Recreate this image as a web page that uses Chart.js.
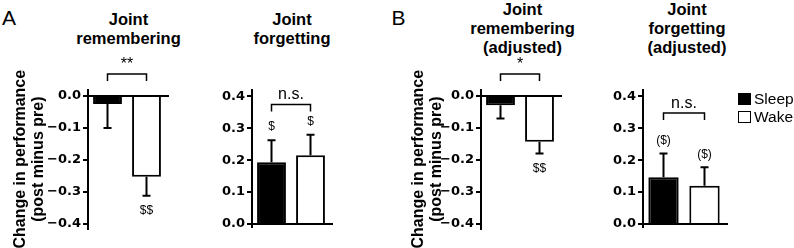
<!DOCTYPE html>
<html><head><meta charset="utf-8">
<script src="https://cdn.jsdelivr.net/npm/chart.js@4"></script>
<style>
body{margin:0;width:794px;height:248px;position:relative;background:#fff;overflow:hidden;font-family:"Liberation Sans",Arial,sans-serif;color:#000}
canvas{position:absolute;top:0}
.t{position:absolute;width:200px;font-weight:bold;font-size:16.5px;line-height:19px;text-align:center;white-space:nowrap}
.l{position:absolute;font-size:21px;line-height:21px}
.lg{position:absolute;font-size:15.5px;line-height:18px;white-space:nowrap}
.bx{position:absolute;width:13px;height:12px;box-sizing:border-box}
</style></head>
<body>
<div class="l" style="left:2px;top:7px">A</div>
<div class="l" style="left:391.5px;top:6.5px">B</div>
<div id="titles"></div>
<canvas id="c0" width="180" height="248" style="left:0px"></canvas>
<canvas id="c1" width="150" height="248" style="left:190px"></canvas>
<canvas id="c2" width="170" height="248" style="left:398px"></canvas>
<canvas id="c3" width="150" height="248" style="left:590px"></canvas>
<div id="legend"></div>
<script>
// ---- data ----
const categories = ["Sleep", "Wake"];
const panelTitles = [
  ["Joint", "remembering"],
  ["Joint", "forgetting"],
  ["Joint", "remembering", "(adjusted)"],
  ["Joint", "forgetting", "(adjusted)"]
];
const yAxisTitle = ["Change in performance", "(post minus pre)"];
const rememberMeans = [-0.025, -0.252];
const rememberErr = [0.075, 0.060];
const forgetMeans = [0.194, 0.216];
const forgetErr = [0.069, 0.064];
const rememberAdjMeans = [-0.029, -0.143];
const rememberAdjErr = [0.041, 0.037];
const forgetAdjMeans = [0.147, 0.120];
const forgetAdjErr = [0.074, 0.058];
const negTicks = [0, -0.1, -0.2, -0.3, -0.4];
const posTicks = [0, 0.1, 0.2, 0.3, 0.4];
const sigLabels = ["**", "n.s.", "*", "n.s."];
const bracketLevels = [0.069, 0.375, 0.069, 0.348];
const barMarks = [["", "$$"], ["$", "$"], ["", "$$"], ["($)", "($)"]];

// ---- plugin: zero line, error bars, marks, significance brackets ----
const annot = {
  id: 'annot',
  afterDatasetsDraw(chart, args, o) {
    const {ctx, chartArea: ca, scales: {y}} = chart;
    const meta = chart.getDatasetMeta(0);
    const vals = chart.data.datasets[0].data;
    ctx.save();
    ctx.strokeStyle = '#000'; ctx.fillStyle = '#000'; ctx.lineWidth = 2;
    const y0 = y.getPixelForValue(0);
    ctx.beginPath(); ctx.moveTo(ca.left - 1, y0); ctx.lineTo(ca.right + 3, y0); ctx.stroke();
    vals.forEach((v, i) => {
      const bx = meta.data[i].x;
      const sign = v < 0 ? -1 : 1;
      const p1 = y.getPixelForValue(v), p2 = y.getPixelForValue(v + sign * o.err[i]);
      ctx.beginPath();
      ctx.moveTo(bx, p1); ctx.lineTo(bx, p2);
      ctx.moveTo(bx - 4, p2); ctx.lineTo(bx + 4, p2);
      ctx.stroke();
      if (o.marks[i]) {
        ctx.font = '12px "Liberation Sans"';
        ctx.textAlign = 'center'; ctx.textBaseline = 'middle';
        ctx.fillText(o.marks[i], bx, p2 + (sign < 0 ? 15 : -13));
      }
    });
    const by = y.getPixelForValue(o.level);
    const x1 = meta.data[0].x, x2 = meta.data[1].x;
    ctx.lineWidth = 1.5;
    ctx.beginPath();
    ctx.moveTo(x1, by + 7); ctx.lineTo(x1, by); ctx.lineTo(x2, by); ctx.lineTo(x2, by + 7);
    ctx.stroke();
    ctx.font = '16px "Liberation Sans"';
    ctx.textAlign = 'center'; ctx.textBaseline = 'alphabetic';
    ctx.fillText(o.sig, (x1 + x2) / 2, by - 5);
    ctx.restore();
  }
};

const fmt = v => (v < 0 ? '\u2212' : '') + Math.abs(v).toFixed(1);

function makePanel(id, means, errs, ticks, min, max, yw, pad, showTitle, idx) {
  new Chart(document.getElementById(id), {
    type: 'bar',
    data: {
      labels: categories,
      datasets: [{
        data: means,
        backgroundColor: ['#000', '#fff'],
        borderColor: '#000',
        borderWidth: 2,
        barPercentage: 0.74,
        categoryPercentage: 1
      }]
    },
    options: {
      responsive: false, animation: false, events: [],
      layout: {padding: pad},
      plugins: {
        legend: {display: false}, tooltip: {enabled: false},
        annot: {err: errs, marks: barMarks[idx], sig: sigLabels[idx], level: bracketLevels[idx]}
      },
      scales: {
        x: {display: false},
        y: {
          min: min, max: max,
          afterBuildTicks: s => { s.ticks = ticks.map(v => ({value: v})); },
          afterFit: s => { s.width = yw; },
          border: {display: true, color: '#000', width: 2},
          grid: {display: true, drawOnChartArea: false, drawTicks: true, tickLength: 5, color: '#000', lineWidth: 2},
          ticks: {color: '#000', padding: 2, font: {family: 'DejaVu Sans', weight: 'bold', size: 13}, callback: fmt},
          title: {display: showTitle, text: yAxisTitle, color: '#000',
                  font: {family: 'Liberation Sans', weight: 'bold', size: 16, lineHeight: 1.1},
                  padding: {top: 12, bottom: 0}}
        }
      }
    },
    plugins: [annot]
  });
}

makePanel('c0', rememberMeans, rememberErr, negTicks, -0.415, 0.02, 88, {left: 0, right: 14, top: 89.6, bottom: 19.2}, true, 0);
makePanel('c1', forgetMeans, forgetErr, posTicks, -0.008, 0.42, 62, {left: 0, right: 10, top: 90.1, bottom: 21.45}, false, 1);
makePanel('c2', rememberAdjMeans, rememberAdjErr, negTicks, -0.415, 0.02, 83, {left: 0, right: 9, top: 89.6, bottom: 19.2}, true, 2);
makePanel('c3', forgetAdjMeans, forgetAdjErr, posTicks, -0.008, 0.42, 53, {left: 0, right: 15, top: 90.1, bottom: 21.45}, false, 3);

// ---- titles ----
const titlePos = [[128.5, 9.7], [292, 9.7], [522.5, -0.5], [687, -0.5]];
const tbox = document.getElementById('titles');
panelTitles.forEach((lines, i) => {
  const d = document.createElement('div');
  d.className = 't';
  d.style.left = (titlePos[i][0] - 100) + 'px';
  d.style.top = titlePos[i][1] + 'px';
  d.innerHTML = lines.join('<br>');
  tbox.appendChild(d);
});

// ---- legend ----
const legendColors = ['#000', '#fff'];
const lbox = document.getElementById('legend');
categories.forEach((c, i) => {
  const top = 93 + i * 18;
  const b = document.createElement('div');
  b.className = 'bx';
  b.style.left = '738px'; b.style.top = top + 'px';
  b.style.background = legendColors[i];
  b.style.border = '1px solid #000';
  lbox.appendChild(b);
  const t = document.createElement('div');
  t.className = 'lg';
  t.style.left = '754px'; t.style.top = (top - 3) + 'px';
  t.textContent = c;
  lbox.appendChild(t);
});
</script>
</body></html>
